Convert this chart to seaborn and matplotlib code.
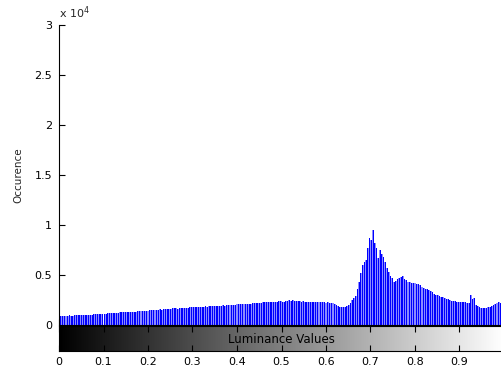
import numpy as np
import matplotlib
matplotlib.use("Agg")
import matplotlib.pyplot as plt
import seaborn as sns
from matplotlib.ticker import FuncFormatter

# Histogram counts per luminance bin (256 bins)
counts = [
    950, 920, 900, 930, 910, 940, 960, 930, 950, 980, 1000, 970, 990, 1010, 980, 1000,
    1020, 1040, 1010, 1050, 1080, 1060, 1100, 1090, 1120, 1140, 1110, 1150, 1180, 1160, 1190, 1200,
    1220, 1250, 1230, 1270, 1260, 1290, 1300, 1280, 1310, 1330, 1320, 1350, 1340, 1370, 1390, 1380,
    1410, 1430, 1450, 1440, 1480, 1500, 1470, 1510, 1530, 1520, 1560, 1550, 1590, 1600, 1580, 1620,
    1640, 1660, 1700, 1680, 1650, 1710, 1720, 1690, 1740, 1750, 1730, 1770, 1780, 1760, 1800, 1790,
    1810, 1830, 1820, 1850, 1860, 1840, 1880, 1900, 1870, 1910, 1920, 1900, 1940, 1930, 1960, 1950,
    1980, 2000, 1990, 2020, 2050, 2030, 2060, 2080, 2070, 2100, 2120, 2090, 2140, 2150, 2130, 2180,
    2200, 2170, 2220, 2250, 2230, 2270, 2280, 2260, 2300, 2320, 2290, 2340, 2350, 2330, 2380, 2360,
    2310, 2340, 2400, 2450, 2500, 2420, 2480, 2450, 2400, 2380, 2360, 2350, 2380, 2330, 2300, 2320,
    2300, 2320, 2290, 2310, 2300, 2280, 2300, 2270, 2290, 2250, 2260, 2230, 2200, 2180, 2120, 2050,
    1900, 1800, 1780, 1820, 1800, 1880, 2000, 2200, 2500, 2700, 2900, 3600, 4300, 5200, 6000, 6300,
    6500, 7700, 8700, 8500, 9500, 8200, 7700, 6700, 7500, 7100, 6800, 6300, 5700, 5300, 4900, 4700,
    4300, 4400, 4600, 4700, 4800, 4900, 4600, 4500, 4300, 4300, 4250, 4200, 4200, 4150, 4100, 4000,
    3800, 3750, 3650, 3600, 3500, 3400, 3300, 3150, 3050, 3000, 2900, 2850, 2800, 2700, 2650, 2600,
    2500, 2450, 2400, 2400, 2350, 2300, 2300, 2300, 2280, 2300, 2250, 2200, 3000, 2600, 2700, 2000,
    1900, 1800, 1750, 1700, 1700, 1750, 1800, 1800, 1900, 2000, 2100, 2200, 2300, 2250, 2300, 2350,
]
lum = np.arange(len(counts)) / 255.0
xticks = [0, 0.1, 0.2, 0.3, 0.4, 0.5, 0.6, 0.7, 0.8, 0.9, 1.0]
xticklabels = ["0", "0.1", "0.2", "0.3", "0.4", "0.5", "0.6", "0.7", "0.8", "0.9", ""]
yticks = [0, 5000, 10000, 15000, 20000, 25000, 30000]

sns.set_theme(style="ticks")
plt.rcParams["font.family"] = ["DejaVu Sans"]

fig = plt.figure(figsize=(5.01, 3.72), dpi=100)
ax = fig.add_axes([59 / 501, 47 / 372, 445 / 501, 300 / 372])
cax = fig.add_axes([59 / 501, 21 / 372, 445 / 501, 25 / 372])

# light fill behind the stems, then the stems themselves
sns.barplot(x=lum, y=counts, native_scale=True, width=1.0, color="#8c8cff",
            saturation=1, edgecolor="none", errorbar=None, ax=ax)
sns.barplot(x=lum, y=counts, native_scale=True, width=0.55, color="blue",
            saturation=1, edgecolor="none", errorbar=None, ax=ax)

ax.set_xlim(0, 1)
ax.set_ylim(0, 30000)
ax.set_yticks(yticks)
ax.yaxis.set_major_formatter(FuncFormatter(lambda v, p: "%g" % (v / 1e4)))
ax.set_xticks(xticks)
ax.set_xticklabels([])
ax.tick_params(axis="both", direction="in", length=4, width=0.8, colors="black",
               labelsize=8, pad=3)
ax.tick_params(axis="y", pad=5)
for s in ["top", "right"]:
    ax.spines[s].set_visible(False)
for s in ["left", "bottom"]:
    ax.spines[s].set_color("black")
    ax.spines[s].set_linewidth(0.8)
ax.set_ylabel("Occurence", fontsize=7.5, labelpad=8)
ax.set_xlabel("")
ax.text(0.0, 1.015, r"x 10$^{4}$", transform=ax.transAxes, fontsize=8,
        ha="left", va="bottom")

# grey luminance strip under the histogram
grad = np.linspace(0, 1, 256).reshape(1, -1)
cax.imshow(grad, cmap="gray", aspect="auto", extent=[0, 1, 0, 1], vmin=0, vmax=1)
cax.set_xlim(0, 1)
cax.set_xticks(xticks)
cax.set_xticklabels(xticklabels)
cax.set_yticks([])
cax.tick_params(axis="x", direction="in", length=4, width=0.8, top=True,
                bottom=True, labelsize=8, pad=4, colors="black")
for s in cax.spines.values():
    s.set_color("black")
    s.set_linewidth(0.8)
cax.text(0.5, 0.45, "Luminance Values", transform=cax.transAxes, fontsize=8.5,
         ha="center", va="center", color="black")

fig.savefig("out.png", dpi=100, facecolor="white")
